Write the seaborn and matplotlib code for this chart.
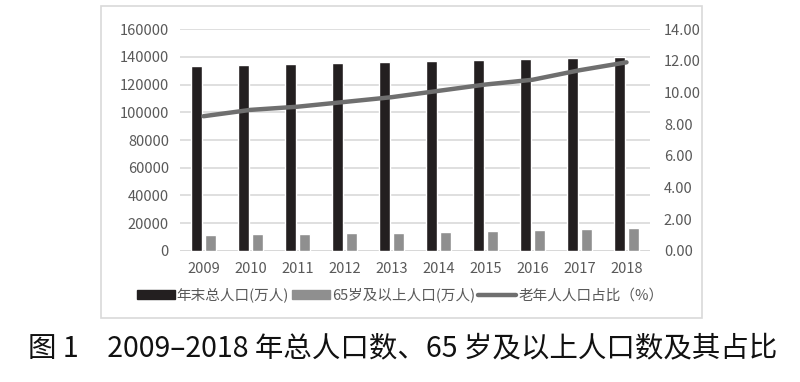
import numpy as np
import pandas as pd
import matplotlib
matplotlib.use("Agg")
import matplotlib.pyplot as plt
import seaborn as sns
from matplotlib.patches import Rectangle
from matplotlib.lines import Line2D

# data
years = ["2009", "2010", "2011", "2012", "2013", "2014", "2015", "2016", "2017", "2018"]
total_pop = [133450, 134091, 134735, 135404, 136072, 136782, 137462, 138271, 139008, 139538]
elderly_pop = [11307, 11894, 12288, 12714, 13161, 13755, 14386, 15003, 15831, 16658]
elderly_ratio = [8.5, 8.9, 9.1, 9.4, 9.7, 10.1, 10.5, 10.8, 11.4, 11.9]

label_total = "年末总人口(万人)"
label_elderly = "65岁及以上人口(万人)"
label_ratio = "老年人人口占比（%）"
caption = "图 1　2009–2018 年总人口数、65 岁及以上人口数及其占比"

bar_df = pd.DataFrame({
    "year": years * 2,
    "value": total_pop + elderly_pop,
    "series": [label_total] * len(years) + [label_elderly] * len(years),
})
line_df = pd.DataFrame({"year": years, "ratio": elderly_ratio})

sns.set_theme(style="white")
plt.rcParams["font.family"] = ["Noto Sans CJK SC", "DejaVu Sans"]

black = "#231f20"
grey_bar = "#8f8f8f"
grey_line = "#6f6f6f"
tick_col = "#595959"

fig = plt.figure(figsize=(8, 3.82), dpi=100)
ax = fig.add_axes([0.225, 0.343, 0.5875, 0.581])

sns.barplot(data=bar_df, x="year", y="value", hue="series",
            palette=[black, grey_bar], width=0.58, gap=0.18,
            ax=ax, legend=False, saturation=1)
ax.set_ylim(0, 160000)
ax.set_yticks(np.arange(0, 160001, 20000))
ax.set_xlim(-0.5, 9.5)
ax.yaxis.grid(True, color="#d9d9d9", linewidth=1.2)
ax.set_axisbelow(True)
ax.set_xlabel("")
ax.set_ylabel("")
for s in ax.spines.values():
    s.set_visible(False)
ax.axhline(0, color="#d0d0d0", linewidth=1.2, zorder=0)
ax.tick_params(axis="both", length=0, labelsize=10.5, labelcolor=tick_col, pad=8)

ax2 = ax.twinx()
sns.lineplot(data=line_df, x="year", y="ratio", ax=ax2, color=grey_line,
             linewidth=3.2, sort=False)
ax2.set_ylim(0, 14)
ax2.set_yticks(np.arange(0, 14.01, 2))
ax2.set_yticklabels([f"{v:.2f}" for v in np.arange(0, 14.01, 2)])
ax2.set_ylabel("")
ax2.set_xlim(-0.5, 9.5)
for s in ax2.spines.values():
    s.set_visible(False)
ax2.tick_params(axis="y", length=0, labelsize=10.5, labelcolor=tick_col, pad=10)

# outer frame around the chart area
fig.patches.append(Rectangle((0.126, 0.168), 0.752, 0.817, transform=fig.transFigure,
                             fill=False, edgecolor="#d9d9d9", linewidth=1.2))

handles = [Rectangle((0, 0), 1, 1, color=black),
           Rectangle((0, 0), 1, 1, color=grey_bar),
           Line2D([0], [0], color=grey_line, linewidth=3.2)]
fig.legend(handles, [label_total, label_elderly, label_ratio], loc="center",
           bbox_to_anchor=(0.50, 0.228), ncol=3, frameon=False, fontsize=10.5,
           labelcolor=tick_col, handlelength=2.6, handleheight=0.55,
           handletextpad=0.15, columnspacing=0.2)

fig.text(0.503, 0.088, caption, ha="center", va="center", fontsize=20.5,
         color="#111111", fontweight="medium")

fig.savefig("out.png", dpi=100, facecolor="white")
